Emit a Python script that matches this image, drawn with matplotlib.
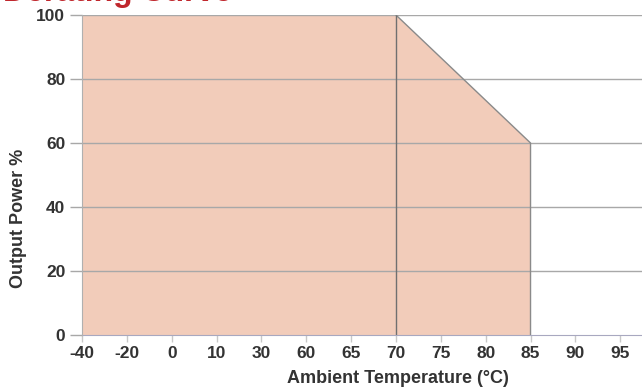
import matplotlib.pyplot as plt
import numpy as np

plt.rcParams['font.family'] = ['Liberation Sans', 'DejaVu Sans']

# x axis categories (equally spaced, not linear)
temps = ['-40', '-20', '0', '10', '30', '60', '65', '70', '75', '80', '85', '90', '95']
power_ticks = [0, 20, 40, 60, 80, 100]

# derating curve
curve_temp = ['-40', '70', '85']
curve_power = [100, 100, 60]

FILL = '#F2CCBA'
GRID = '#A8A8A8'
TXT = '#333333'

fig = plt.figure(figsize=(6.42, 3.9), dpi=100)
ax = fig.add_axes([82/642, 55/390, 1 - 82/642 + 0.001, 320/390])

xs = [temps.index(t) for t in curve_temp]
ax.fill_between(xs, curve_power, 0, color=FILL, lw=0, zorder=1)
ax.plot(xs[1:] + [xs[-1]], curve_power[1:] + [0], color='#8A8A8A', lw=1, zorder=4)

for p in power_ticks[1:]:
    ax.axhline(p, color=GRID, lw=1, zorder=3)
ax.vlines(temps.index('70'), 0, 100, color='#707070', lw=1, zorder=4)

ax.set_xlim(0, 12.5)
ax.set_ylim(0, 100)
ax.set_xticks(range(len(temps)))
ax.set_xticklabels(temps)
ax.set_yticks(power_ticks)
ax.tick_params(axis='y', length=9, width=1, color=GRID, pad=3,
               labelsize=12.5, labelcolor=TXT)
ax.tick_params(axis='x', length=5, width=1, color='#C8C8C8', pad=3,
               labelsize=12.5, labelcolor=TXT)
for lab in ax.get_xticklabels() + ax.get_yticklabels():
    lab.set_fontweight('bold')

for s in ['top', 'right']:
    ax.spines[s].set_visible(False)
ax.spines['left'].set_color('#B0B0B0')
ax.spines['bottom'].set_color('#A8A8C0')
ax.spines['left'].set_zorder(5)

fig.text(398/642, 3/390, 'Ambient Temperature (°C)', ha='center', va='bottom',
         fontsize=13, fontweight='bold', color=TXT)
fig.text(19/642, 172/390, 'Output Power %', rotation=90, ha='center', va='center',
         fontsize=13, fontweight='bold', color=TXT)

# title is cropped at the top edge, as in the source image
fig.text(3/642, 1 - 0.5/390, 'Derating Curve', ha='left', va='baseline',
         fontsize=23, fontweight='bold', color='#C0272D')

fig.savefig('out.png', dpi=100)
